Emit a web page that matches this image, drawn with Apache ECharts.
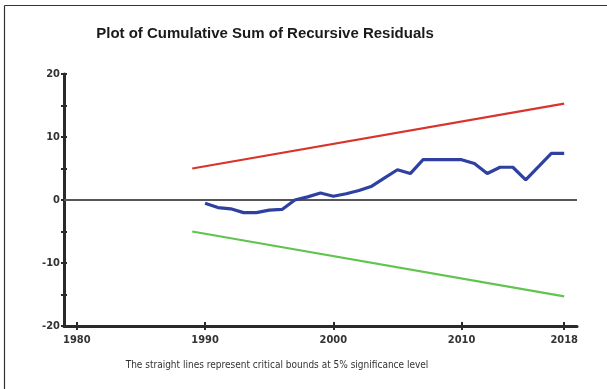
<!DOCTYPE html>
<html>
<head>
<meta charset="utf-8">
<script src="https://cdn.jsdelivr.net/npm/echarts@6/dist/echarts.min.js"></script>
<style>
  html, body { margin: 0; padding: 0; background: #fff; }
  #chart { width: 607px; height: 389px; }
</style>
</head>
<body>
<div id="chart"></div>
<script>
// CUSUM of recursive residuals, one value per year
const years = [1990, 1991, 1992, 1993, 1994, 1995, 1996, 1997, 1998, 1999,
               2000, 2001, 2002, 2003, 2004, 2005, 2006, 2007, 2008, 2009,
               2010, 2011, 2012, 2013, 2014, 2015, 2016, 2017, 2018];
const cusum = [-0.5, -1.2, -1.4, -2.0, -2.0, -1.6, -1.5, 0.0, 0.5, 1.1,
               0.6, 1.0, 1.5, 2.2, 3.5, 4.8, 4.2, 6.4, 6.4, 6.4,
               6.4, 5.8, 4.2, 5.2, 5.2, 3.2, 5.3, 7.4, 7.4];

// 5% critical bounds (straight lines)
const boundYears = [1989, 2018];
const upperBound = [5.0, 15.3];
const lowerBound = [-5.0, -15.3];

// Axis ticks and labels
const xTicks = [1980, 1990, 2000, 2010, 2018];
const yLabelled = [-20, -10, 0, 10, 20];

const titleText = 'Plot of Cumulative Sum of Recursive Residuals';
const noteText = 'The straight lines represent critical bounds at 5% significance level';

const pairs = (xs, ys) => xs.map((x, i) => [x, ys[i]]);

const narrowFont = "'DejaVu Sans Condensed', 'Liberation Sans Narrow', 'Liberation Sans', sans-serif";

const axisFont = {
  fontFamily: narrowFont,
  fontWeight: 'bold',
  fontSize: 11,
  color: '#333'
};

const tickStyle = { color: '#2a2a2a', width: 2 };

const chart = echarts.init(document.getElementById('chart'), null, { renderer: 'canvas' });

chart.setOption({
  animation: false,
  backgroundColor: '#fff',
  grid: { left: 64, right: 30, top: 74, bottom: 63, containLabel: false },
  xAxis: [{
    type: 'value',
    min: 1979,
    max: 2019,
    splitLine: { show: false },
    axisLine: { show: true, onZero: false, lineStyle: { color: '#2a2a2a', width: 3 } },
    axisTick: { show: true, length: 4, customValues: xTicks, lineStyle: tickStyle },
    axisLabel: Object.assign({ customValues: xTicks, margin: 9, formatter: v => String(v) }, axisFont)
  }, {
    type: 'value',
    position: 'bottom',
    min: 1979,
    max: 2019,
    splitLine: { show: false },
    axisLine: { show: false, onZero: false },
    axisTick: { show: true, inside: true, length: 4, customValues: xTicks, lineStyle: tickStyle },
    axisLabel: { show: false }
  }],
  yAxis: [{
    type: 'value',
    min: -20,
    max: 20,
    interval: 5,
    splitLine: { show: false },
    axisLine: { show: true, onZero: false, lineStyle: { color: '#2a2a2a', width: 3 } },
    axisTick: { show: true, length: 3, lineStyle: tickStyle },
    axisLabel: Object.assign({
      margin: 4,
      formatter: v => (yLabelled.indexOf(v) >= 0 ? String(v) : '')
    }, axisFont)
  }, {
    type: 'value',
    position: 'left',
    min: -20,
    max: 20,
    interval: 5,
    splitLine: { show: false },
    axisLine: { show: false, onZero: false },
    axisTick: { show: true, inside: true, length: 3, lineStyle: tickStyle },
    axisLabel: { show: false }
  }],
  series: [{
    name: 'Upper bound',
    type: 'line',
    data: pairs(boundYears, upperBound),
    showSymbol: false,
    lineStyle: { color: '#d8342b', width: 2.2 },
    z: 3
  }, {
    name: 'Lower bound',
    type: 'line',
    data: pairs(boundYears, lowerBound),
    showSymbol: false,
    lineStyle: { color: '#62c450', width: 2.2 },
    z: 3
  }, {
    name: 'CUSUM',
    type: 'line',
    data: pairs(years, cusum),
    showSymbol: false,
    lineStyle: { color: '#2f41a0', width: 3.2 },
    z: 4,
    markLine: {
      silent: true,
      symbol: 'none',
      label: { show: false },
      lineStyle: { color: '#555', width: 2, type: 'solid' },
      data: [{ yAxis: 0 }],
      z: 2
    }
  }],
  graphic: [{
    type: 'line',
    shape: { x1: 4.5, y1: 5.5, x2: 607, y2: 5.5 },
    style: { stroke: '#333', lineWidth: 1.2 }
  }, {
    type: 'line',
    shape: { x1: 4.5, y1: 5.5, x2: 4.5, y2: 389 },
    style: { stroke: '#333', lineWidth: 1.2 }
  }, {
    type: 'text',
    x: 265,
    y: 34,
    style: {
      text: titleText,
      fontFamily: "'Liberation Sans', Arial, sans-serif",
      fontWeight: 'bold',
      fontSize: 15,
      fill: '#1a1a1a',
      textAlign: 'center',
      textVerticalAlign: 'middle'
    }
  }, {
    type: 'text',
    x: 277,
    y: 365,
    style: {
      text: noteText,
      fontFamily: narrowFont,
      fontSize: 10,
      fill: '#333',
      textAlign: 'center',
      textVerticalAlign: 'middle'
    }
  }]
});
</script>
</body>
</html>
